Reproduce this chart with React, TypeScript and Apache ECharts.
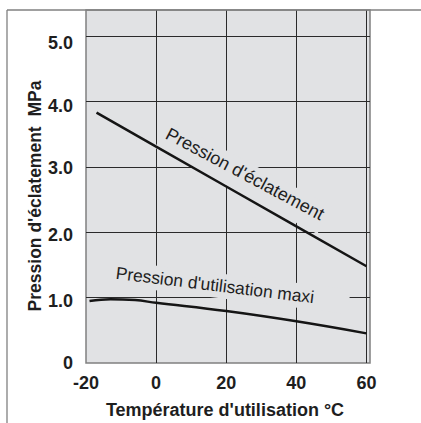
import React, { useEffect, useRef } from "react";
import * as echarts from "echarts";

// ---- data ----
const BURST_TEMPS = [-17, 0, 20, 40, 60];
const BURST_VALUES = [3.83, 3.31, 2.7, 2.09, 1.48];
const MAXI_TEMPS = [-19, -13, -6, 0, 20, 40, 60];
const MAXI_VALUES = [0.95, 0.977, 0.962, 0.921, 0.794, 0.637, 0.453];
const X_TICKS = [-20, 0, 20, 40, 60];
const Y_TICK_LABELS = ["0", "1.0", "2.0", "3.0", "4.0", "5.0"];

const X_TITLE = "Température d'utilisation °C";
const Y_TITLE = "Pression d'éclatement  MPa";
const BURST_LABEL = "Pression d'éclatement";
const MAXI_LABEL = "Pression d'utilisation maxi";

// style: small per-label vertical nudges seen in the reference (px, downward)
const Y_LABEL_NUDGE = [0, 3.5, 2.5, 1, 4, 7];

const FONT = "'Liberation Sans', Arial, Helvetica, sans-serif";
const PLOT_BG = "#e1e2e4";
const GRID_LINE = "#2a2a2a";
const FRAME = "#808080";
const INK = "#1e1e1e";

export default function App() {
  const ref = useRef<HTMLDivElement>(null);

  useEffect(() => {
    if (!ref.current) return;
    const chart = echarts.init(ref.current, null, { renderer: "svg" });

    const rich: Record<string, any> = {};
    Y_TICK_LABELS.forEach((_, i) => {
      rich["n" + i] = {
        fontFamily: FONT,
        fontSize: 18,
        fontWeight: "bold",
        color: INK,
        padding: [Y_LABEL_NUDGE[i] * 2, 0, 0, 0],
      };
    });

    const maskedLabel = (
      text: string,
      cx: number,
      cy: number,
      deg: number,
      fontSize: number,
      box: { l: number; r: number; t: number; b: number }
    ) => ({
      type: "group",
      x: cx,
      y: cy,
      rotation: (-deg * Math.PI) / 180,
      children: [
        {
          type: "rect",
          z: 1,
          shape: { x: -box.l, y: -box.t, width: box.l + box.r, height: box.t + box.b },
          style: { fill: PLOT_BG },
        },
        {
          type: "text",
          z: 1,
          x: 0,
          y: 0,
          style: {
            text,
            font: fontSize + "px " + FONT,
            fill: INK,
            align: "center",
            verticalAlign: "middle",
          },
        },
      ],
    });

    chart.setOption({
      animation: false,
      grid: {
        left: 86,
        right: 51,
        top: 10,
        bottom: 60,
        show: true,
        backgroundColor: PLOT_BG,
        borderColor: FRAME,
        borderWidth: 1.5,
      },
      xAxis: {
        type: "value",
        min: -20,
        max: 61,
        interval: 20,
        axisLine: { show: false },
        axisTick: { show: false },
        splitLine: {
          show: true,
          showMinLine: false,
          showMaxLine: false,
          lineStyle: { color: GRID_LINE, width: 1 },
        },
        axisLabel: {
          margin: 11,
          fontFamily: FONT,
          fontSize: 18,
          fontWeight: "bold",
          color: INK,
          formatter: (v: number) => (X_TICKS.includes(v) ? String(v) : ""),
        },
      },
      yAxis: {
        type: "value",
        min: 0,
        max: 5.4,
        interval: 1,
        axisLine: { show: false },
        axisTick: { show: false },
        splitLine: {
          show: true,
          showMinLine: false,
          showMaxLine: false,
          lineStyle: { color: GRID_LINE, width: 1 },
        },
        axisLabel: {
          margin: 13,
          fontFamily: FONT,
          fontSize: 18,
          fontWeight: "bold",
          color: INK,
          rich,
          formatter: (v: number) => {
            const i = Math.round(v);
            if (Math.abs(v - i) > 1e-6 || i < 0 || i >= Y_TICK_LABELS.length) return "";
            return "{n" + i + "|" + Y_TICK_LABELS[i] + "}";
          },
        },
      },
      series: [
        {
          type: "line",
          data: BURST_TEMPS.map((t, i) => [t, BURST_VALUES[i]]),
          showSymbol: false,
          lineStyle: { color: "#151515", width: 2.5 },
          z: 3,
        },
        {
          type: "line",
          data: MAXI_TEMPS.map((t, i) => [t, MAXI_VALUES[i]]),
          smooth: 0.4,
          showSymbol: false,
          lineStyle: { color: "#151515", width: 2.5 },
          z: 3,
        },
      ],
      graphic: [
        {
          type: "line",
          shape: { x1: 7, y1: 10, x2: 421, y2: 10 },
          style: { stroke: FRAME, lineWidth: 1.3 },
          z: 5,
        },
        {
          type: "line",
          shape: { x1: 7, y1: 10, x2: 7, y2: 423 },
          style: { stroke: FRAME, lineWidth: 1.3 },
          z: 5,
        },
        {
          type: "text",
          x: 35,
          y: 196,
          rotation: Math.PI / 2,
          style: {
            text: Y_TITLE,
            font: "bold 17.5px " + FONT,
            fill: INK,
            align: "center",
            verticalAlign: "middle",
          },
        },
        {
          type: "text",
          x: 225,
          y: 410,
          style: {
            text: X_TITLE,
            font: "bold 18px " + FONT,
            fill: INK,
            align: "center",
            verticalAlign: "middle",
          },
        },
        maskedLabel(BURST_LABEL, 245, 174, 28, 18, { l: 92, r: 92, t: 12, b: 19 }),
        maskedLabel(MAXI_LABEL, 215, 285, 7, 17.4, { l: 107, r: 135, t: 12, b: 12.5 }),
      ],
    });

    return () => chart.dispose();
  }, []);

  return (
    <div
      ref={ref}
      style={{ position: "fixed", left: 0, top: 0, width: 421, height: 423, background: "#fff" }}
    />
  );
}
